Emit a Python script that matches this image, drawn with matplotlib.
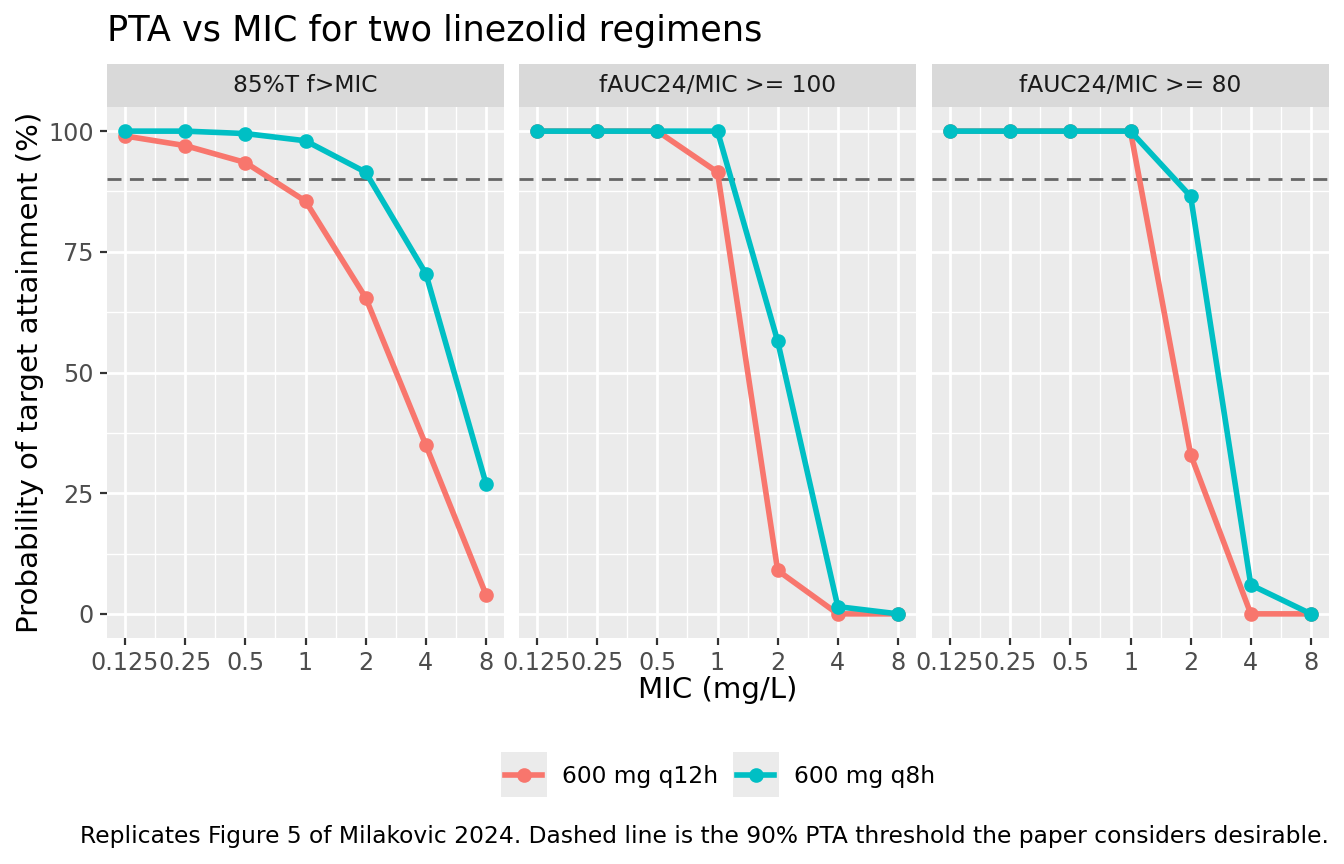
import numpy as np
import matplotlib.pyplot as plt
from matplotlib.patches import Rectangle
from matplotlib.lines import Line2D

# data
mic = [0.125, 0.25, 0.5, 1, 2, 4, 8]
mic_labels = ['0.125', '0.25', '0.5', '1', '2', '4', '8']
targets = ['85%T f>MIC', 'fAUC24/MIC >= 100', 'fAUC24/MIC >= 80']
regimens = ['600 mg q12h', '600 mg q8h']
colors = ['#F8766D', '#00BFC4']

q12h_t85 = [99, 97, 93.5, 85.5, 65.5, 35, 4]
q8h_t85 = [100, 100, 99.5, 98, 91.5, 70.5, 27]
q12h_auc100 = [100, 100, 100, 91.5, 9, 0, 0]
q8h_auc100 = [100, 100, 100, 100, 56.5, 1.5, 0]
q12h_auc80 = [100, 100, 100, 100, 33, 0, 0]
q8h_auc80 = [100, 100, 100, 100, 86.5, 6, 0]

pta = [[q12h_t85, q8h_t85], [q12h_auc100, q8h_auc100], [q12h_auc80, q8h_auc80]]
threshold = 90

W, H = 1344, 864
fig = plt.figure(figsize=(W / 144, H / 144), dpi=144)
k = 1.33  # text scale

def box(x0, y0, x1, y1):
    return [x0 / W, 1 - y1 / H, (x1 - x0) / W, (y1 - y0) / H]

panel_x = [(107, 504), (519, 916), (932, 1329)]
top, bottom, strip_top = 107, 638, 64

for i, (x0, x1) in enumerate(panel_x):
    ax = fig.add_axes(box(x0, top, x1, bottom))
    ax.set_facecolor('#EBEBEB')
    ax.set_xscale('log', base=2)
    ax.set_xlim(2 ** -3.3, 2 ** 3.3)
    ax.set_ylim(-5, 105)
    ax.set_xticks(mic)
    ax.set_xticklabels(mic_labels)
    ax.set_xticks([2 ** (m + 0.5) for m in range(-3, 3)], minor=True)
    ax.set_xticklabels([], minor=True)
    ax.set_yticks([0, 25, 50, 75, 100])
    ax.set_yticks([12.5, 37.5, 62.5, 87.5], minor=True)
    ax.set_yticklabels([], minor=True)
    ax.grid(which='major', color='white', lw=1.4)
    ax.grid(which='minor', color='white', lw=0.7)
    ax.set_axisbelow(True)
    for s in ax.spines.values():
        s.set_visible(False)
    ax.tick_params(which='major', length=2.75 * k, width=1.1, color='#333333',
                   labelsize=8.8 * 1.36, labelcolor='#4D4D4D', pad=2.2 * k)
    ax.tick_params(which='minor', length=0)
    if i == 0:
        ax.set_yticklabels(['0', '25', '50', '75', '100'])
    else:
        ax.tick_params(axis='y', which='both', length=0, labelleft=False)

    ax.axhline(threshold, color='#666666', lw=1.4, dashes=(5, 3), zorder=1)
    for j in range(2):
        ax.plot(mic, pta[i][j], color=colors[j], lw=2.8, marker='o', ms=6.3,
                zorder=3, clip_on=False)

    sax = fig.add_axes(box(x0, strip_top, x1, top))
    sax.set_facecolor('#D9D9D9')
    sax.set_xticks([])
    sax.set_yticks([])
    for s in sax.spines.values():
        s.set_visible(False)
    sax.text(0.5, 0.5, targets[i], ha='center', va='center', fontsize=8.8 * k,
             color='#1A1A1A', transform=sax.transAxes)

# overlay for titles and legend
ov = fig.add_axes([0, 0, 1, 1])
ov.set_xlim(0, W)
ov.set_ylim(H, 0)
ov.axis('off')
ov.set_zorder(-1)

ov.text(107, 31, 'PTA vs MIC for two linezolid regimens', fontsize=13.2 * k,
        ha='left', va='center')
ov.text(718, 690, 'MIC (mg/L)', fontsize=11 * k, ha='center', va='center')
ov.text(30, 372, 'Probability of target attainment (%)', fontsize=11 * k,
        ha='center', va='center', rotation=90)

key_x = [501, 733]
for j in range(2):
    kx = key_x[j]
    ov.add_patch(Rectangle((kx, 752), 46, 45, color='#EBEBEB', lw=0))
    ov.add_line(Line2D([kx + 4, kx + 41], [775, 775], color=colors[j], lw=2.8))
    ov.plot([kx + 23], [775], marker='o', ms=6.3, color=colors[j])
    ov.text(kx + 61, 776, regimens[j], fontsize=8.8 * k, ha='left', va='center')

ov.text(1329, 836, 'Replicates Figure 5 of Milakovic 2024. Dashed line is the 90% PTA '
        'threshold the paper considers desirable.', fontsize=8.8 * k, ha='right', va='center')

fig.savefig('out.png', dpi=144)
